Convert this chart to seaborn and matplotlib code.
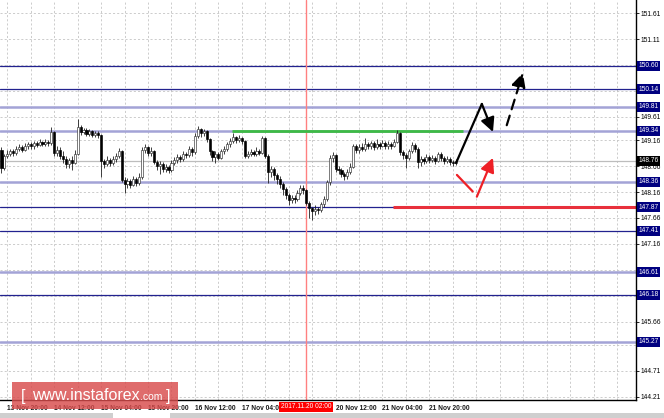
import numpy as np
import pandas as pd
import matplotlib
matplotlib.use("Agg")
import matplotlib.pyplot as plt
import seaborn as sns
from matplotlib import transforms
from matplotlib.patches import Rectangle

sns.set_style("white")
plt.rcParams['font.family'] = ['Liberation Sans', 'DejaVu Sans']

# hourly candles, 13 Nov 18:00 .. 21 Nov 23:00 (open of each bar = previous close)
first_open = 148.98
closes = [148.62, 148.85, 148.90, 148.95, 148.92, 149.00, 149.02, 148.98, 149.05, 149.08,
          149.04, 149.10, 149.07, 149.12, 149.09, 149.13, 149.10, 149.32, 148.92, 148.98,
          148.85, 148.80, 148.70, 148.78, 148.72, 148.90, 149.42, 149.32, 149.36, 149.28,
          149.33, 149.27, 149.30, 149.26, 148.75, 148.70, 148.78, 148.72, 148.80, 148.85,
          148.95, 148.40, 148.32, 148.38, 148.30, 148.42, 148.34, 148.45, 148.98, 149.02,
          148.92, 148.96, 148.74, 148.66, 148.70, 148.60, 148.65, 148.58, 148.72, 148.78,
          148.84, 148.80, 148.90, 148.88, 149.00, 148.93, 149.25, 149.38, 149.30, 149.34,
          149.18, 148.95, 148.84, 148.90, 148.82, 148.95, 149.00, 149.08, 149.14, 149.22,
          149.16, 149.20, 149.14, 148.86, 148.90, 148.94, 148.90, 148.95, 148.92, 149.20,
          148.86, 148.55, 148.60, 148.48, 148.42, 148.32, 148.22, 148.10, 148.00, 148.04,
          148.02, 148.15, 148.24, 148.20, 147.95, 147.85, 147.80, 147.84, 147.82, 147.92,
          148.02, 148.35, 148.82, 148.87, 148.60, 148.58, 148.50, 148.46, 148.55, 148.65,
          149.05, 148.97, 149.03, 149.00, 149.08, 149.04, 149.10, 149.03, 149.08, 149.05,
          149.10, 149.04, 149.09, 149.05, 149.12, 149.30, 148.93, 148.88, 148.82, 148.95,
          149.07, 149.00, 148.74, 148.80, 148.76, 148.84, 148.78, 148.82, 148.76, 148.90,
          148.82, 148.76, 148.80, 148.73, 148.72, 148.76]
highs = [149.03, 148.90, 148.97, 149.00, 149.00, 149.05, 149.08, 149.06, 149.10, 149.12,
         149.12, 149.15, 149.14, 149.18, 149.15, 149.18, 149.16, 149.41, 149.34, 149.05,
         149.02, 148.95, 148.85, 148.82, 148.85, 148.98, 149.57, 149.46, 149.40, 149.39,
         149.37, 149.36, 149.34, 149.33, 149.28, 148.80, 148.85, 148.82, 148.86, 148.91,
         149.01, 148.98, 148.45, 148.44, 148.42, 148.47, 148.45, 148.52, 149.02, 149.08,
         149.05, 149.02, 148.98, 148.78, 148.76, 148.74, 148.70, 148.68, 148.77, 148.83,
         148.90, 148.88, 148.96, 148.94, 149.04, 149.02, 149.30, 149.43, 149.40, 149.38,
         149.36, 149.20, 148.98, 148.96, 148.94, 149.00, 149.05, 149.12, 149.20, 149.30,
         149.25, 149.26, 149.23, 149.16, 148.96, 149.00, 148.98, 149.02, 149.00, 149.25,
         149.22, 148.90, 148.66, 148.64, 148.52, 148.46, 148.36, 148.26, 148.14, 148.10,
         148.10, 148.20, 148.30, 148.30, 148.22, 147.98, 147.88, 147.90, 147.88, 147.96,
         148.08, 148.40, 148.88, 148.93, 148.90, 148.66, 148.62, 148.55, 148.60, 148.72,
         149.08, 149.08, 149.08, 149.10, 149.20, 149.12, 149.15, 149.14, 149.18, 149.12,
         149.16, 149.14, 149.15, 149.12, 149.18, 149.36, 149.32, 148.97, 148.92, 149.00,
         149.12, 149.10, 149.02, 148.86, 148.84, 148.90, 148.88, 148.88, 148.86, 148.94,
         148.93, 148.86, 148.85, 148.83, 148.78, 148.80]
lows = [148.53, 148.58, 148.82, 148.86, 148.86, 148.88, 148.96, 148.94, 148.95, 149.00,
        149.00, 149.00, 149.02, 149.04, 149.05, 149.05, 149.04, 149.06, 148.85, 148.85,
        148.80, 148.72, 148.62, 148.62, 148.58, 148.70, 148.88, 149.26, 149.28, 149.24,
        149.24, 149.22, 149.22, 149.20, 148.45, 148.62, 148.66, 148.66, 148.68, 148.74,
        148.82, 148.35, 148.14, 148.24, 148.24, 148.27, 148.28, 148.30, 148.42, 148.92,
        148.86, 148.86, 148.70, 148.58, 148.51, 148.54, 148.55, 148.52, 148.55, 148.68,
        148.72, 148.74, 148.76, 148.82, 148.84, 148.86, 148.90, 149.20, 149.22, 149.24,
        149.12, 148.88, 148.76, 148.72, 148.78, 148.80, 148.90, 148.96, 149.02, 149.10,
        149.10, 149.12, 149.08, 148.82, 148.82, 148.86, 148.86, 148.86, 148.87, 148.90,
        148.82, 148.33, 148.45, 148.40, 148.32, 148.24, 148.10, 148.02, 147.91, 147.94,
        147.95, 147.98, 148.10, 148.12, 147.90, 147.66, 147.62, 147.72, 147.74, 147.78,
        147.88, 147.98, 148.30, 148.74, 148.55, 148.50, 148.45, 148.40, 148.42, 148.50,
        148.62, 148.92, 148.92, 148.95, 148.96, 149.00, 149.00, 148.98, 149.00, 149.00,
        149.02, 149.00, 149.00, 149.00, 149.02, 149.10, 148.88, 148.80, 148.62, 148.78,
        148.92, 148.94, 148.62, 148.66, 148.70, 148.72, 148.72, 148.74, 148.70, 148.74,
        148.76, 148.70, 148.72, 148.68, 148.66, 148.68]

# time axis labels (every 16 bars); 17 Nov 20:00 sits under the red marker box
x_label_bars = [2, 18, 34, 50, 66, 82, 114, 130, 146]
x_labels = ["13 Nov 20:00", "14 Nov 12:00", "15 Nov 04:00", "15 Nov 20:00", "16 Nov 12:00",
            "17 Nov 04:00", "20 Nov 12:00", "21 Nov 04:00", "21 Nov 20:00"]
marker_bar = 104
marker_label = "2017.11.20 02:00"

# price scale (labels hidden where a level box covers them)
y_ticks = [151.61, 151.11, 150.61, 150.11, 149.61, 149.16, 148.66, 148.16,
           147.66, 147.16, 146.66, 146.16, 145.66, 145.21, 144.71, 144.21]
y_hidden = [150.61, 150.11, 146.66, 146.16]
levels_strong = [150.60, 150.14, 147.87, 147.41, 146.18]
levels_light = [149.81, 149.34, 148.36, 146.61, 145.27]
last_price = 148.76
green_level = 149.34
green_span = [78.7, 157.5]
red_level = 147.87
red_start = 133.6

# forecast arrows
up_path_x = [155.1, 163.9, 167.7]
up_path_y = [148.72, 149.86, 149.32]
breakout_x = [172.4, 177.9]
breakout_y = [149.45, 150.46]
dip_x = [155.4, 160.8]
dip_y = [148.49, 148.17]
rebound_x = [162.2, 167.7]
rebound_y = [148.07, 148.82]

df = pd.DataFrame({'close': closes, 'high': highs, 'low': lows})
df['open'] = [first_open] + closes[:-1]
df['bar'] = np.arange(len(df))
bull = df['close'] >= df['open']

W, H = 664, 418
fig = plt.figure(figsize=(W / 100, H / 100), dpi=100)
ax = fig.add_axes([0, 18 / H, 636 / W, 400 / H])
ax.set_xlim(-0.5, 216.5)
ax.set_ylim(144.145, 151.867)

grid_kw = dict(color='#c4c4c4', lw=0.6, dashes=(2.5, 2.5), zorder=0)
for b in range(2, 217, 8):
    ax.axvline(b, **grid_kw)
for t in y_ticks:
    ax.axhline(t, **grid_kw)

ax.axhline(last_price, color='#bdbdbd', lw=0.9, zorder=1)
for lv in levels_light:
    ax.axhline(lv, color='#a3a3d6', lw=1.8, zorder=1)
for lv in levels_strong:
    ax.axhline(lv, color='#22228f', lw=0.9, zorder=1)
ax.hlines(red_level, red_start, 216.5, color='#e8303c', lw=2.2, zorder=2)
ax.hlines(green_level, green_span[0], green_span[1], color='#3dbb45', lw=2.0, zorder=2)
ax.axvline(marker_bar, color='#ff8080', lw=1.0, zorder=1)

# candles
ax.vlines(df['bar'], df['low'], df['high'], color='#202020', lw=0.6, zorder=3)
body_lo = df[['open', 'close']].min(axis=1)
body_h = (df['close'] - df['open']).abs().clip(lower=0.012)
ax.bar(df['bar'][bull], body_h[bull], bottom=body_lo[bull], width=0.72,
       color='white', edgecolor='#303030', lw=0.45, zorder=4)
ax.bar(df['bar'][~bull], body_h[~bull], bottom=body_lo[~bull], width=0.72,
       color='black', edgecolor='black', lw=0.45, zorder=4)

# forecast arrows
head = dict(arrowstyle='-|>,head_length=0.6,head_width=0.3', lw=1.6, mutation_scale=14,
            shrinkA=0, shrinkB=0)
ax.plot(up_path_x[:2], up_path_y[:2], color='black', lw=1.6, zorder=5,
        solid_capstyle='round')
ax.annotate('', xy=(up_path_x[2], up_path_y[2]), xytext=(up_path_x[1], up_path_y[1]),
            arrowprops=dict(color='black', **head), zorder=5)
ax.annotate('', xy=(breakout_x[1], breakout_y[1]), xytext=(breakout_x[0], breakout_y[0]),
            arrowprops=dict(color='black', linestyle=(0, (4.5, 3)), **head), zorder=5)
ax.plot(dip_x, dip_y, color='#ee2026', lw=1.6, zorder=5)
ax.annotate('', xy=(rebound_x[1], rebound_y[1]), xytext=(rebound_x[0], rebound_y[0]),
            arrowprops=dict(color='#ee2026', **head), zorder=5)

# axes frame
sns.despine(ax=ax, left=True, top=True, right=False, bottom=False)
for s in ('right', 'bottom'):
    ax.spines[s].set_color('black')
    ax.spines[s].set_linewidth(1.0)

ax.yaxis.tick_right()
ax.set_yticks(y_ticks)
ax.set_yticklabels(["" if t in y_hidden else f"{t:.2f}" for t in y_ticks])
ax.tick_params(axis='y', labelsize=4.8, length=2, width=0.6, pad=1.5, colors='black')
ax.set_xticks(x_label_bars)
ax.set_xticklabels(x_labels, ha='left', fontweight='bold')
ax.tick_params(axis='x', labelsize=4.8, length=2, width=0.6, pad=1.5, colors='black')
for lab in ax.get_xticklabels():
    lab.set_color('#1a1a1a')

ytr = transforms.blended_transform_factory(ax.transAxes, ax.transData)
for lv in levels_strong + levels_light:
    ax.text(1.004, lv, f"{lv:.2f}", transform=ytr, ha='left', va='center', fontsize=4.8,
            color='white', zorder=10, clip_on=False,
            bbox=dict(boxstyle='square,pad=0.22', fc='#000080', ec='none'))
ax.text(1.004, last_price, f"{last_price:.2f}", transform=ytr, ha='left', va='center',
        fontsize=4.8, color='white', zorder=10, clip_on=False,
        bbox=dict(boxstyle='square,pad=0.22', fc='black', ec='none'))

xtr = transforms.blended_transform_factory(ax.transData, ax.transAxes)
ax.text(marker_bar, -0.008, marker_label, transform=xtr, ha='center', va='top',
        fontsize=4.8, color='white', zorder=10, clip_on=False,
        bbox=dict(boxstyle='square,pad=0.25', fc='#ff0000', ec='none'))

# bottom tab strip and watermark
fig.patches.append(Rectangle((0, 0), 1, 5 / H, transform=fig.transFigure,
                             fc='#cfcfcf', ec='none', zorder=0))
fig.patches.append(Rectangle((113 / W, 0), 57 / W, 5 / H, transform=fig.transFigure,
                             fc='white', ec='none', zorder=1))
fig.patches.append(Rectangle((12 / W, 9 / H), 166 / W, 27 / H, transform=fig.transFigure,
                             fc='#d84c4c', alpha=0.82, ec='none', zorder=20))
wy = 22 / H
fig.text(21 / W, wy, "[", fontsize=11.5, color='white', va='center', zorder=21)
site = fig.text(32 / W, wy, "www.instaforex", fontsize=11.5, color='white', va='center',
                zorder=21)
fig.canvas.draw()
site_end = site.get_window_extent().x1 / W
dom = fig.text(site_end, wy - 1.5 / H, ".com", fontsize=7.5, color='white', va='center',
               zorder=21)
fig.canvas.draw()
dom_end = dom.get_window_extent().x1 / W
fig.text(dom_end + 4 / W, wy, "]", fontsize=11.5, color='white', va='center', zorder=21)

fig.savefig('out.png', dpi=100)
plt.close(fig)
